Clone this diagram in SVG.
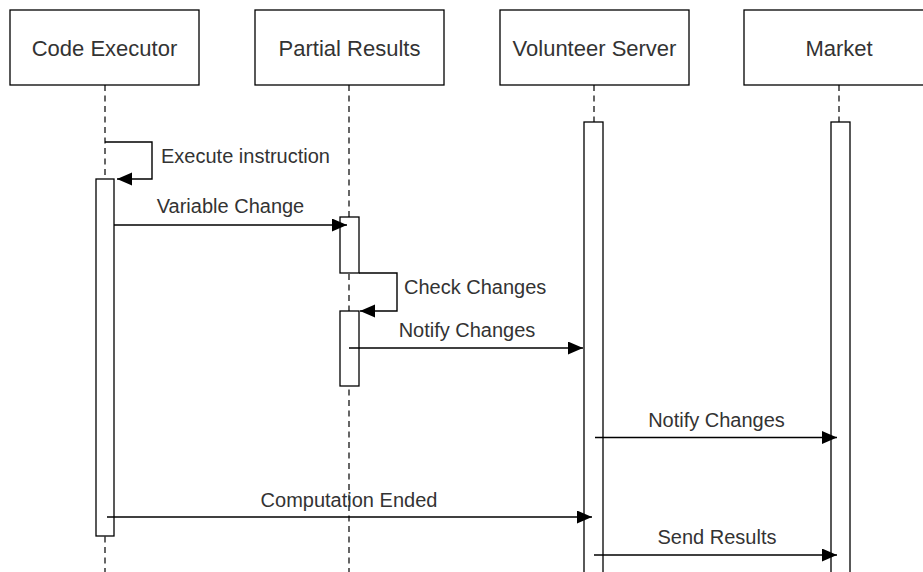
<svg xmlns="http://www.w3.org/2000/svg" width="923" height="572" viewBox="0 0 923 572">
  <style>
    .actor rect { fill: #ffffff; stroke: #000000; stroke-width: 1.3; }
    .actor text { font-family: "Liberation Sans", Arial, sans-serif; font-size: 22px; fill: #333333; text-anchor: middle; }
    .lifeline { stroke: #000000; stroke-width: 1.2; stroke-dasharray: 6 4.5; fill: none; }
    .activation { fill: #ffffff; stroke: #000000; stroke-width: 1.3; }
    .msg { stroke: #000000; stroke-width: 1.4; fill: none; marker-end: url(#block); }
    .label { font-family: "Liberation Sans", Arial, sans-serif; font-size: 20px; fill: #333333; }
    .mid { text-anchor: middle; }
  </style>
  <defs>
    <marker id="block" markerUnits="userSpaceOnUse" markerWidth="16" markerHeight="14" refX="15" refY="6.5" orient="auto">
      <path d="M0,0 L15,6.5 L0,13 Z" fill="#000000"/>
    </marker>
  </defs>

  <rect width="923" height="572" fill="#ffffff"/>

  <!-- participants with their lifelines and activation bars -->
  <g id="code-executor" class="actor">
    <rect x="10" y="10" width="189" height="75"/>
    <text x="104.5" y="56">Code Executor</text>
    <line class="lifeline" x1="105" y1="85" x2="105" y2="572"/>
    <rect class="activation" x="96" y="179" width="18" height="357"/>
  </g>

  <g id="partial-results" class="actor">
    <rect x="255" y="10" width="189" height="75"/>
    <text x="349.5" y="56">Partial Results</text>
    <line class="lifeline" x1="349" y1="85" x2="349" y2="572"/>
    <rect class="activation" x="340" y="217" width="19" height="56"/>
    <rect class="activation" x="340" y="311" width="19" height="75"/>
  </g>

  <g id="volunteer-server" class="actor">
    <rect x="500" y="10" width="189" height="75"/>
    <text x="594.5" y="56">Volunteer Server</text>
    <line class="lifeline" x1="594" y1="85" x2="594" y2="122"/>
    <rect class="activation" x="584" y="122" width="19" height="460"/>
  </g>

  <g id="market" class="actor">
    <rect x="744" y="10" width="189" height="75"/>
    <text x="839" y="56">Market</text>
    <line class="lifeline" x1="839" y1="85" x2="839" y2="122"/>
    <rect class="activation" x="831" y="122" width="19" height="460"/>
  </g>

  <!-- messages -->
  <g id="connectors">
    <path class="msg" d="M105,142 H152 V179 H117"/>
    <text class="label" x="161" y="163">Execute instruction</text>

    <line class="msg" x1="114" y1="225" x2="347" y2="225"/>
    <text class="label mid" x="230.5" y="213">Variable Change</text>

    <path class="msg" d="M359,273 H397 V311 H360"/>
    <text class="label" x="404" y="294">Check Changes</text>

    <line class="msg" x1="349" y1="348" x2="583" y2="348"/>
    <text class="label mid" x="467" y="337">Notify Changes</text>

    <line class="msg" x1="595" y1="437.5" x2="837" y2="437.5"/>
    <text class="label mid" x="716.5" y="427">Notify Changes</text>

    <line class="msg" x1="107" y1="517" x2="592" y2="517"/>
    <text class="label mid" x="349" y="507">Computation Ended</text>

    <line class="msg" x1="594" y1="555" x2="837" y2="555"/>
    <text class="label mid" x="717" y="544">Send Results</text>
  </g>
</svg>
